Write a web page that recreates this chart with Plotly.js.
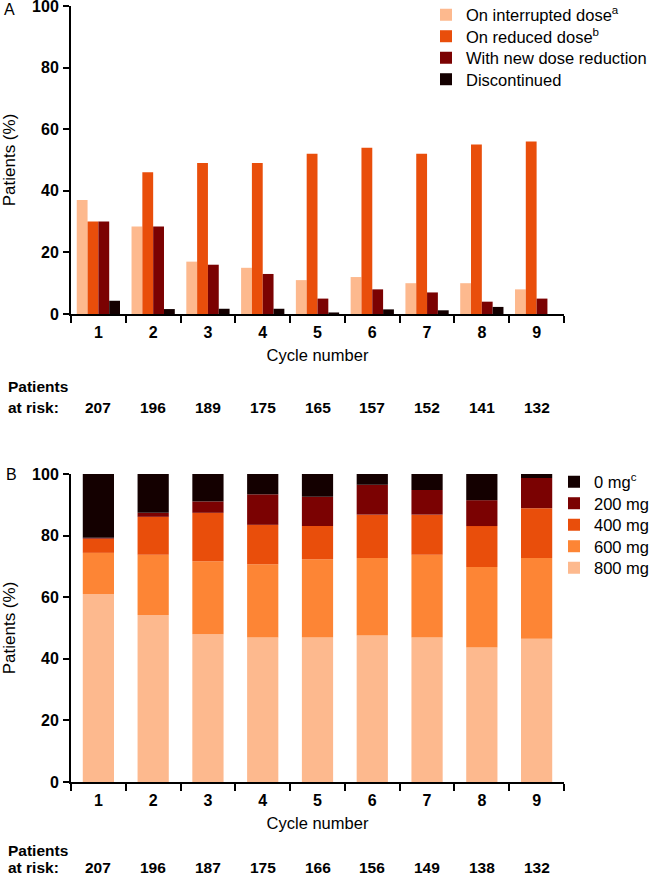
<!DOCTYPE html>
<html><head><meta charset="utf-8">
<script src="https://cdn.plot.ly/plotly-3.0.1.min.js"></script>
<style>html,body{margin:0;padding:0;background:#fff}#chart{width:654px;height:876px}</style>
</head><body><div id="chart"></div>
<script>
// ---- data ----
const cycles = ['1','2','3','4','5','6','7','8','9'];

// Panel A (% of patients)
const interruptedDose = [37, 28.4, 17, 15, 11, 12, 10, 10, 8];
const reducedDose     = [30, 46, 49, 49, 52, 54, 52, 55, 56];
const newReduction    = [30, 28.4, 16, 13, 5, 8, 7, 4, 5];
const discontinued    = [4.3, 1.6, 1.7, 1.7, 0.5, 1.5, 1.2, 2.3, 0];
const seriesNamesA = ['On interrupted dose<sup>a</sup>', 'On reduced dose<sup>b</sup>', 'With new dose reduction', 'Discontinued'];
const atRiskA = [207, 196, 189, 175, 165, 157, 152, 141, 132];

// Panel B (% of patients by dose)
const dose800 = [61.0, 54.2, 48.0, 46.9, 46.9, 47.6, 46.9, 43.7, 46.5];
const dose600 = [13.4, 19.6, 23.7, 23.8, 25.4, 25.1, 26.9, 26.1, 26.2];
const dose400 = [4.6, 12.3, 15.7, 12.8, 10.8, 14.1, 13.0, 13.3, 16.2];
const dose200 = [0.3, 1.3, 3.7, 9.9, 9.5, 9.7, 8.0, 8.4, 9.8];
const dose0   = [20.7, 12.6, 8.9, 6.6, 7.4, 3.5, 5.2, 8.5, 1.3];
const seriesNamesB = ['800 mg', '600 mg', '400 mg', '200 mg', '0 mg<sup>c</sup>'];
const atRiskB = [207, 196, 187, 175, 166, 156, 149, 138, 132];

const yTicks = [0, 20, 40, 60, 80, 100];

// ---- styles ----
const PEACH = '#FDB98E', ORANGE = '#FD8535', REDOR = '#E94E0B', DARKRED = '#7B0202', BLACK = '#140000';
const FONT = 'Liberation Sans, Arial, Helvetica, sans-serif';
const colorsA = [PEACH, REDOR, DARKRED, BLACK];
const colorsB = [PEACH, ORANGE, REDOR, DARKRED, BLACK];

const H = 876, W = 654;
const py = p => 1 - p / H, px = p => p / W;

// legend row centres (pixels) for each item
const legendRowsA = [15, 36.5, 58, 79.5];
const legendRowsB = [568, 546.5, 525, 503.5, 482]; // 800 mg ... 0 mg

const traces = [];
const legendsLayout = {};
function legendKey(n) { return n === 1 ? 'legend' : 'legend' + n; }
let legN = 1;
[interruptedDose, reducedDose, newReduction, discontinued].forEach((vals, i) => {
  const key = legendKey(legN++);
  traces.push({type:'bar', x:cycles, y:vals, name:seriesNamesA[i], xaxis:'x', yaxis:'y',
    marker:{color:colorsA[i], line:{width:0}}, legend:key, hoverinfo:'y'});
  legendsLayout[key] = {x:px(426), xanchor:'left', y:py(legendRowsA[i]), yanchor:'middle',
    bgcolor:'rgba(0,0,0,0)', borderwidth:0, font:{family:FONT, size:16.5, color:'#000'}};
});
const seriesB = [dose800, dose600, dose400, dose200, dose0];
let base = cycles.map(() => 0);
seriesB.forEach((vals, i) => {
  const key = legendKey(legN++);
  traces.push({type:'bar', x:cycles, y:vals, base:base.slice(), name:seriesNamesB[i], xaxis:'x2', yaxis:'y2',
    width:0.57, offset:-0.285,
    marker:{color:colorsB[i], line:{width:0}}, legend:key, hoverinfo:'y'});
  legendsLayout[key] = {x:px(554), xanchor:'left', y:py(legendRowsB[i]), yanchor:'middle',
    bgcolor:'rgba(0,0,0,0)', borderwidth:0, font:{family:FONT, size:16.5, color:'#000'}};
  base = base.map((b, k) => b + vals[k]);
});

function xAxis(anchor, domain) {
  return {domain:domain, anchor:anchor, type:'category', range:[-0.5, cycles.length - 0.5],
    tickson:'boundaries', ticks:'outside',
    ticklen:7, tickwidth:2, tickcolor:'#000', showline:true, linewidth:2, linecolor:'#000',
    showgrid:false, zeroline:false, ticklabelstandoff:3,
    tickfont:{family:FONT, size:16, weight:700, color:'#000'},
    title:{text:'Cycle number', font:{family:FONT, size:16.5, color:'#000'}, standoff:9}};
}
function yAxis(anchor, domain) {
  return {domain:domain, anchor:anchor, range:[0, 100], tickvals:yTicks, ticktext:yTicks.map(String),
    ticks:'outside', ticklen:6, tickwidth:2, tickcolor:'#000', showline:true, linewidth:2, linecolor:'#000',
    showgrid:false, zeroline:false, ticklabelstandoff:1, ticklabeloverflow:'allow',
    tickfont:{family:FONT, size:16, weight:700, color:'#000'},
    title:{text:'Patients (%)', font:{family:FONT, size:17, color:'#000'}, standoff:21}};
}

const xDom = [px(71), px(564)];
const annotations = [];
annotations.push({xref:'paper', yref:'paper', x:px(2), y:py(9), xanchor:'left', yanchor:'middle', text:'A', showarrow:false, font:{family:FONT, size:16, color:'#000'}});
annotations.push({xref:'paper', yref:'paper', x:px(4), y:py(474), xanchor:'left', yanchor:'middle', text:'B', showarrow:false, font:{family:FONT, size:16, color:'#000'}});
[[atRiskA, 'x', 386, 407], [atRiskB, 'x2', 850, 867]].forEach(([vals, xr, yP, yR]) => {
  annotations.push({xref:'paper', yref:'paper', x:px(6), y:py(yP), xanchor:'left', yanchor:'middle', text:'Patients', showarrow:false, font:{family:FONT, size:15.5, weight:700, color:'#000'}});
  annotations.push({xref:'paper', yref:'paper', x:px(6), y:py(yR), xanchor:'left', yanchor:'middle', text:'at risk:', showarrow:false, font:{family:FONT, size:15.5, weight:700, color:'#000'}});
  vals.forEach((v, k) => {
    annotations.push({xref:xr, yref:'paper', x:k, y:py(yR), xanchor:'center', yanchor:'middle', text:String(v), showarrow:false, font:{family:FONT, size:15.5, weight:700, color:'#000'}});
  });
});

const layout = Object.assign({
  width:W, height:H, margin:{l:0, r:0, t:0, b:0, autoexpand:false}, paper_bgcolor:'#fff', plot_bgcolor:'rgba(0,0,0,0)',
  barmode:'group', bargap:0.21, bargroupgap:0,
  font:{family:FONT, color:'#000', size:16},
  xaxis: xAxis('y', xDom),
  yaxis: yAxis('x', [py(314), py(6)]),
  xaxis2: xAxis('y2', xDom),
  yaxis2: yAxis('x2', [py(782), py(474)]),
  showlegend:true,
  annotations:annotations
}, legendsLayout);

Plotly.newPlot('chart', traces, layout, {displayModeBar:false, staticPlot:true});
</script>
</body></html>
